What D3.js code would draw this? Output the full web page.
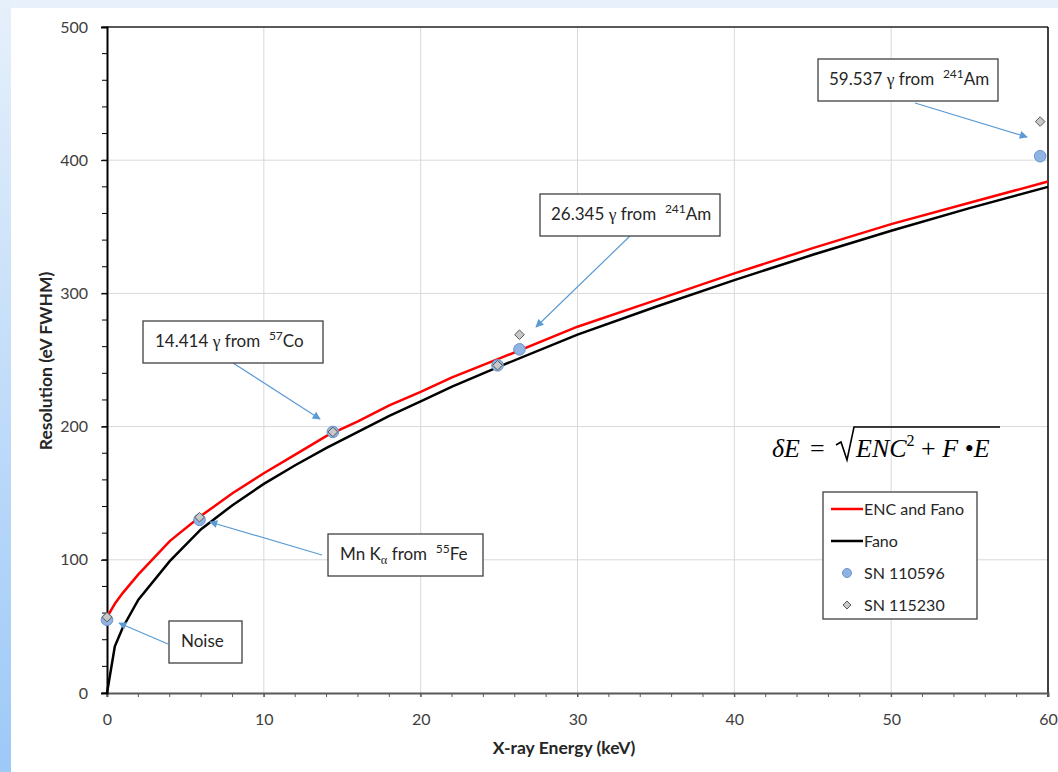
<!DOCTYPE html>
<html>
<head>
<meta charset="utf-8">
<script src="https://cdn.jsdelivr.net/npm/d3@7"></script>
<style>
  html, body { margin: 0; padding: 0; background: #fff; }
  svg { display: block; }
</style>
</head>
<body>
<svg id="chart" width="1058" height="772" font-family="Lato, 'Open Sans', 'Liberation Sans', sans-serif"></svg>
<script>
// ---- data ----
const curveEnergy = [0, 0.5, 1, 2, 4, 6, 8, 10, 12, 14, 16, 18, 20, 22, 25, 30, 35, 40, 45, 50, 55, 60];
const encAndFano  = [57, 67, 75, 89, 114, 133, 150, 165, 179, 193, 204, 216, 226, 237, 251, 275, 295, 315, 334, 352, 368, 384];
const fanoOnly    = [0, 35, 49, 70, 99, 123, 141, 157, 171, 184, 196, 208, 219, 230, 245, 269, 290, 310, 329, 347, 364, 380];

const sn110596Energy = [0, 5.9, 14.4, 24.9, 26.3, 59.5];
const sn110596Res    = [55, 130, 196, 246, 258, 403];
const sn115230Energy = [0, 5.9, 14.4, 24.9, 26.3, 59.5];
const sn115230Res    = [57, 132, 196, 246, 269, 429];

const xTicks = [0, 10, 20, 30, 40, 50, 60];
const yTicks = [0, 100, 200, 300, 400, 500];

const legendLabels = ["ENC and Fano", "Fano", "SN 110596", "SN 115230"];

// ---- layout ----
const svg = d3.select("#chart");
const W = 1058, H = 772;
const plot = {left: 107, right: 1048, top: 27, bottom: 693};
const SANS = "Lato, 'Open Sans', 'Liberation Sans', sans-serif";
const SERIF = "'Liberation Serif', 'DejaVu Serif', serif";

const defs = svg.append("defs");
const grad = defs.append("linearGradient").attr("id", "leftGrad")
  .attr("x1", 0).attr("y1", 0).attr("x2", 0).attr("y2", 1);
grad.append("stop").attr("offset", "0%").attr("stop-color", "#e6f0fb");
grad.append("stop").attr("offset", "100%").attr("stop-color", "#9dc9f7");
const arrow = defs.append("marker").attr("id", "arr")
  .attr("viewBox", "0 0 10 10").attr("refX", 9).attr("refY", 5)
  .attr("markerWidth", 10).attr("markerHeight", 8)
  .attr("markerUnits", "userSpaceOnUse").attr("orient", "auto");
arrow.append("path").attr("d", "M0,0 L10,5 L0,10 Z").attr("fill", "#5b9bd5");

// background
svg.append("rect").attr("x", 0).attr("y", 0).attr("width", W).attr("height", H).attr("fill", "#e8f1fb");
svg.append("rect").attr("x", 0).attr("y", 0).attr("width", 11).attr("height", H).attr("fill", "url(#leftGrad)");
svg.append("rect").attr("x", 11).attr("y", 8).attr("width", W - 11).attr("height", H - 8).attr("fill", "#ffffff");

const x = d3.scaleLinear().domain([0, 60]).range([plot.left, plot.right]);
const y = d3.scaleLinear().domain([0, 500]).range([plot.bottom, plot.top]);

// gridlines
const g = svg.append("g");
g.selectAll(".vg").data(xTicks.slice(1, -1)).join("line")
  .attr("x1", d => x(d)).attr("x2", d => x(d)).attr("y1", plot.top).attr("y2", plot.bottom)
  .attr("stroke", "#d9d9d9").attr("stroke-width", 1);
g.selectAll(".hg").data(yTicks.slice(1, -1)).join("line")
  .attr("x1", plot.left).attr("x2", plot.right).attr("y1", d => y(d)).attr("y2", d => y(d))
  .attr("stroke", "#d9d9d9").attr("stroke-width", 1);

// frame top/right
svg.append("line").attr("x1", plot.left).attr("x2", plot.right).attr("y1", plot.top).attr("y2", plot.top)
  .attr("stroke", "#222").attr("stroke-width", 1.5);
svg.append("line").attr("x1", plot.right).attr("x2", plot.right).attr("y1", plot.top).attr("y2", plot.bottom + 4)
  .attr("stroke", "#000").attr("stroke-width", 1.5);

// minor ticks
const xMinor = d3.range(0, 61, 2);
svg.append("g").selectAll("line").data(xMinor).join("line")
  .attr("x1", d => x(d)).attr("x2", d => x(d)).attr("y1", plot.bottom).attr("y2", plot.bottom + 4)
  .attr("stroke", "#595959").attr("stroke-width", 1);
const yMinor = d3.range(0, 501, 20);
svg.append("g").selectAll("line").data(yMinor).join("line")
  .attr("x1", plot.left - 5).attr("x2", plot.left).attr("y1", d => y(d)).attr("y2", d => y(d))
  .attr("stroke", "#000").attr("stroke-width", 1);

// axes
const xAxis = svg.append("g").attr("transform", `translate(0,${plot.bottom})`)
  .call(d3.axisBottom(x).tickValues(xTicks).tickSize(4).tickPadding(17));
xAxis.select(".domain").attr("stroke", "#595959").attr("stroke-width", 2);
xAxis.selectAll(".tick line").attr("stroke", "#595959");
xAxis.selectAll("text").attr("font-size", 16).attr("fill", "#404040").attr("font-family", SANS);

const yAxis = svg.append("g").attr("transform", `translate(${plot.left},0)`)
  .call(d3.axisLeft(y).tickValues(yTicks).tickSize(6).tickPadding(13));
yAxis.select(".domain").attr("stroke", "#000").attr("stroke-width", 2);
yAxis.selectAll(".tick line").attr("stroke", "#000");
yAxis.selectAll("text").attr("font-size", 16).attr("fill", "#404040").attr("font-family", SANS);

// axis titles
svg.append("text").attr("x", 564).attr("y", 754)
  .attr("text-anchor", "middle").attr("font-size", 17.5).attr("font-weight", "bold").attr("fill", "#262626")
  .text("X-ray Energy (keV)");
svg.append("text").attr("transform", `translate(52,361) rotate(-90)`)
  .attr("text-anchor", "middle").attr("font-size", 17.5).attr("font-weight", "bold").attr("fill", "#262626")
  .text("Resolution (eV FWHM)");

// curves
const line = d3.line().x(d => x(d[0])).y(d => y(d[1]));
svg.append("path").datum(curveEnergy.map((e, i) => [e, fanoOnly[i]]))
  .attr("d", line).attr("fill", "none").attr("stroke", "#000").attr("stroke-width", 2.5);
svg.append("path").datum(curveEnergy.map((e, i) => [e, encAndFano[i]]))
  .attr("d", line).attr("fill", "none").attr("stroke", "#ff0000").attr("stroke-width", 2.5);

// points
const circ = sn110596Energy.map((e, i) => [e, sn110596Res[i]]);
svg.append("g").selectAll("circle").data(circ).join("circle")
  .attr("cx", d => x(d[0])).attr("cy", d => y(d[1])).attr("r", 5.8)
  .attr("fill", "#8fb4e3").attr("stroke", "#6a93cc").attr("stroke-width", 1);
const diam = sn115230Energy.map((e, i) => [e, sn115230Res[i]]);
const diamondPath = "M0,-4.8 L4.8,0 L0,4.8 L-4.8,0 Z";
svg.append("g").selectAll("path").data(diam).join("path")
  .attr("transform", d => `translate(${x(d[0])},${y(d[1])})`).attr("d", diamondPath)
  .attr("fill", "#c8c8c8").attr("stroke", "#595959").attr("stroke-width", 1);

// annotations
const NB = "\u00a0";
const annots = [
  {box: [818, 59, 180, 42], tx: 829, parts: [["59.537 "], ["γ", "g"], [" from " + NB], ["241", "sup"], ["Am"]], from: [915, 103], to: [1027, 137]},
  {box: [540, 194, 180, 42], tx: 551, parts: [["26.345 "], ["γ", "g"], [" from " + NB], ["241", "sup"], ["Am"]], from: [630, 236], to: [536, 327]},
  {box: [143, 321, 180, 42], tx: 155, parts: [["14.414 "], ["γ", "g"], [" from " + NB], ["57", "sup"], ["Co"]], from: [233, 363], to: [320, 419]},
  {box: [328, 534, 155, 42], tx: 340, parts: [["Mn K"], ["α", "sub"], [" from " + NB], ["55", "sup"], ["Fe"]], from: [322, 555], to: [210, 522]},
  {box: [169, 621, 73, 42], tx: 181, parts: [["Noise"]], from: [168, 644], to: [119, 623]}
];
annots.forEach(a => {
  svg.append("line").attr("x1", a.from[0]).attr("y1", a.from[1]).attr("x2", a.to[0]).attr("y2", a.to[1])
    .attr("stroke", "#5b9bd5").attr("stroke-width", 1.2).attr("marker-end", "url(#arr)");
});
annots.forEach(a => {
  svg.append("rect").attr("x", a.box[0]).attr("y", a.box[1]).attr("width", a.box[2]).attr("height", a.box[3])
    .attr("fill", "#fff").attr("stroke", "#404040").attr("stroke-width", 1.3);
  const t = svg.append("text").attr("x", a.tx).attr("y", a.box[1] + 26).attr("font-size", 17).attr("fill", "#262626");
  let shift = 0;
  a.parts.forEach(p => {
    const s = t.append("tspan").text(p[0]);
    let target = 0;
    if (p[1] === "sup") { s.attr("font-size", 12); target = -7; }
    else if (p[1] === "sub") { s.attr("font-size", 12.5).attr("font-family", SERIF); target = 4; }
    else if (p[1] === "g") { s.attr("font-family", SERIF).attr("font-size", 17.5); }
    s.attr("dy", target - shift);
    shift = target;
  });
});

// formula
const f1 = svg.append("text").attr("x", 772).attr("y", 457).attr("font-size", 26)
  .attr("font-family", SERIF).attr("fill", "#000");
f1.append("tspan").attr("font-style", "italic").text("δE");
f1.append("tspan").attr("x", 810).text("=");
svg.append("path").attr("d", "M836,445 L841,442 L847,460 L854,427 L1000,427")
  .attr("fill", "none").attr("stroke", "#000").attr("stroke-width", 1.6);
const f2 = svg.append("text").attr("x", 856).attr("y", 457).attr("font-size", 26)
  .attr("font-family", SERIF).attr("fill", "#000");
f2.append("tspan").attr("font-style", "italic").text("ENC");
f2.append("tspan").attr("font-size", 16).attr("dy", -11).text("2");
f2.append("tspan").attr("dy", 11).text(" + ");
f2.append("tspan").attr("font-style", "italic").text("F");
f2.append("tspan").text(" •");
f2.append("tspan").attr("font-style", "italic").text("E");

// legend
const lg = svg.append("g");
lg.append("rect").attr("x", 823).attr("y", 492).attr("width", 154).attr("height", 127)
  .attr("fill", "#fff").attr("stroke", "#404040").attr("stroke-width", 1.3);
const lRows = [509, 541, 573, 605];
lg.append("line").attr("x1", 831).attr("x2", 863).attr("y1", lRows[0]).attr("y2", lRows[0]).attr("stroke", "#ff0000").attr("stroke-width", 2.5);
lg.append("line").attr("x1", 831).attr("x2", 863).attr("y1", lRows[1]).attr("y2", lRows[1]).attr("stroke", "#000").attr("stroke-width", 2.5);
lg.append("circle").attr("cx", 847).attr("cy", lRows[2]).attr("r", 4.5).attr("fill", "#8fb4e3").attr("stroke", "#6a93cc");
lg.append("path").attr("transform", `translate(847,${lRows[3]})`).attr("d", "M0,-4 L4,0 L0,4 L-4,0 Z")
  .attr("fill", "#c8c8c8").attr("stroke", "#595959");
legendLabels.forEach((lab, i) => {
  lg.append("text").attr("x", 864).attr("y", lRows[i] + 5.5).attr("font-size", 16)
    .attr("fill", "#262626").text(lab);
});
</script>
</body>
</html>
